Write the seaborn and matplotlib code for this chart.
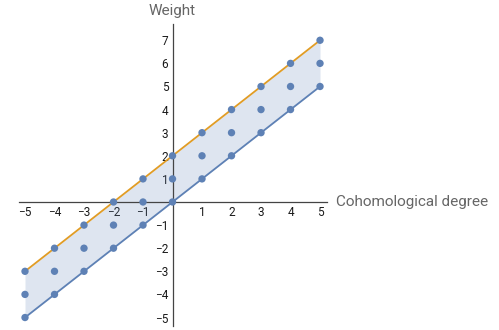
import matplotlib
matplotlib.use('Agg')
import matplotlib.pyplot as plt
import pandas as pd
import seaborn as sns

# dados
graus = [-5, -4, -3, -2, -1, 0, 1, 2, 3, 4, 5]
peso_inferior = [-5, -4, -3, -2, -1, 0, 1, 2, 3, 4, 5]
peso_superior = [-3, -2, -1, 0, 1, 2, 3, 4, 5, 6, 7]
pontos_x = [-5, -5, -5, -4, -4, -4, -3, -3, -3, -2, -2, -2, -1, -1, -1,
            0, 0, 0, 1, 1, 1, 2, 2, 2, 3, 3, 3, 4, 4, 4, 5, 5, 5]
pontos_y = [-5, -4, -3, -4, -3, -2, -3, -2, -1, -2, -1, 0, -1, 0, 1,
            0, 1, 2, 1, 2, 3, 2, 3, 4, 3, 4, 5, 4, 5, 6, 5, 6, 7]
ticks_x = [-5, -4, -3, -2, -1, 1, 2, 3, 4, 5]
ticks_y = [-5, -4, -3, -2, -1, 1, 2, 3, 4, 5, 6, 7]

azul = '#5E81B5'
laranja = '#E19C24'

sns.set_style('white')
plt.rcParams['font.family'] = ['Roboto', 'DejaVu Sans']

fig = plt.figure(figsize=(4.99, 3.30), dpi=100)
ax = fig.add_axes([19.1 / 499, 4.4 / 330, 308.3 / 499, 301.5 / 330])

linhas = pd.DataFrame({'grau': graus, 'inf': peso_inferior, 'sup': peso_superior})
pontos = pd.DataFrame({'x': pontos_x, 'y': pontos_y})

ax.fill_between(linhas['grau'], linhas['inf'], linhas['sup'], color=azul, alpha=0.2, lw=0)
sns.lineplot(data=linhas, x='grau', y='inf', color=azul, lw=1.3, ax=ax)
sns.lineplot(data=linhas, x='grau', y='sup', color=laranja, lw=1.3, ax=ax)
sns.scatterplot(data=pontos, x='x', y='y', color=azul, s=28, edgecolor='none', ax=ax, zorder=5)

ax.set_xlim(-5.2, 5.25)
ax.set_ylim(-5.35, 7.7)

# eixos cruzando na origem
for lado in ['top', 'right']:
    ax.spines[lado].set_visible(False)
ax.spines['left'].set_position(('data', 0))
ax.spines['bottom'].set_position(('data', 0))
for lado in ['left', 'bottom']:
    ax.spines[lado].set_color('#444444')
    ax.spines[lado].set_linewidth(0.9)

ax.set_xticks(ticks_x)
ax.set_yticks(ticks_y)
ax.set_xticklabels(['\u2212' + str(-t) if t < 0 else str(t) for t in ticks_x])
ax.set_yticklabels(['\u2212' + str(-t) if t < 0 else str(t) for t in ticks_y])
ax.tick_params(axis='x', direction='in', length=4, width=0.8, color='#444444',
               labelsize=8.5, labelcolor='#1a1a1a', pad=3)
ax.tick_params(axis='y', direction='in', length=4, width=0.8, color='#444444',
               labelsize=8.5, labelcolor='#1a1a1a', pad=3)
ax.set_xlabel('')
ax.set_ylabel('')

fig.text(172.5 / 499, 1 - 11 / 330, 'Weight', ha='center', va='center',
         fontsize=11, color='#666666')
fig.text(336 / 499, 1 - 202 / 330, 'Cohomological degree', ha='left', va='center',
         fontsize=11, color='#666666')

fig.savefig('out.png', dpi=100)
plt.close()
